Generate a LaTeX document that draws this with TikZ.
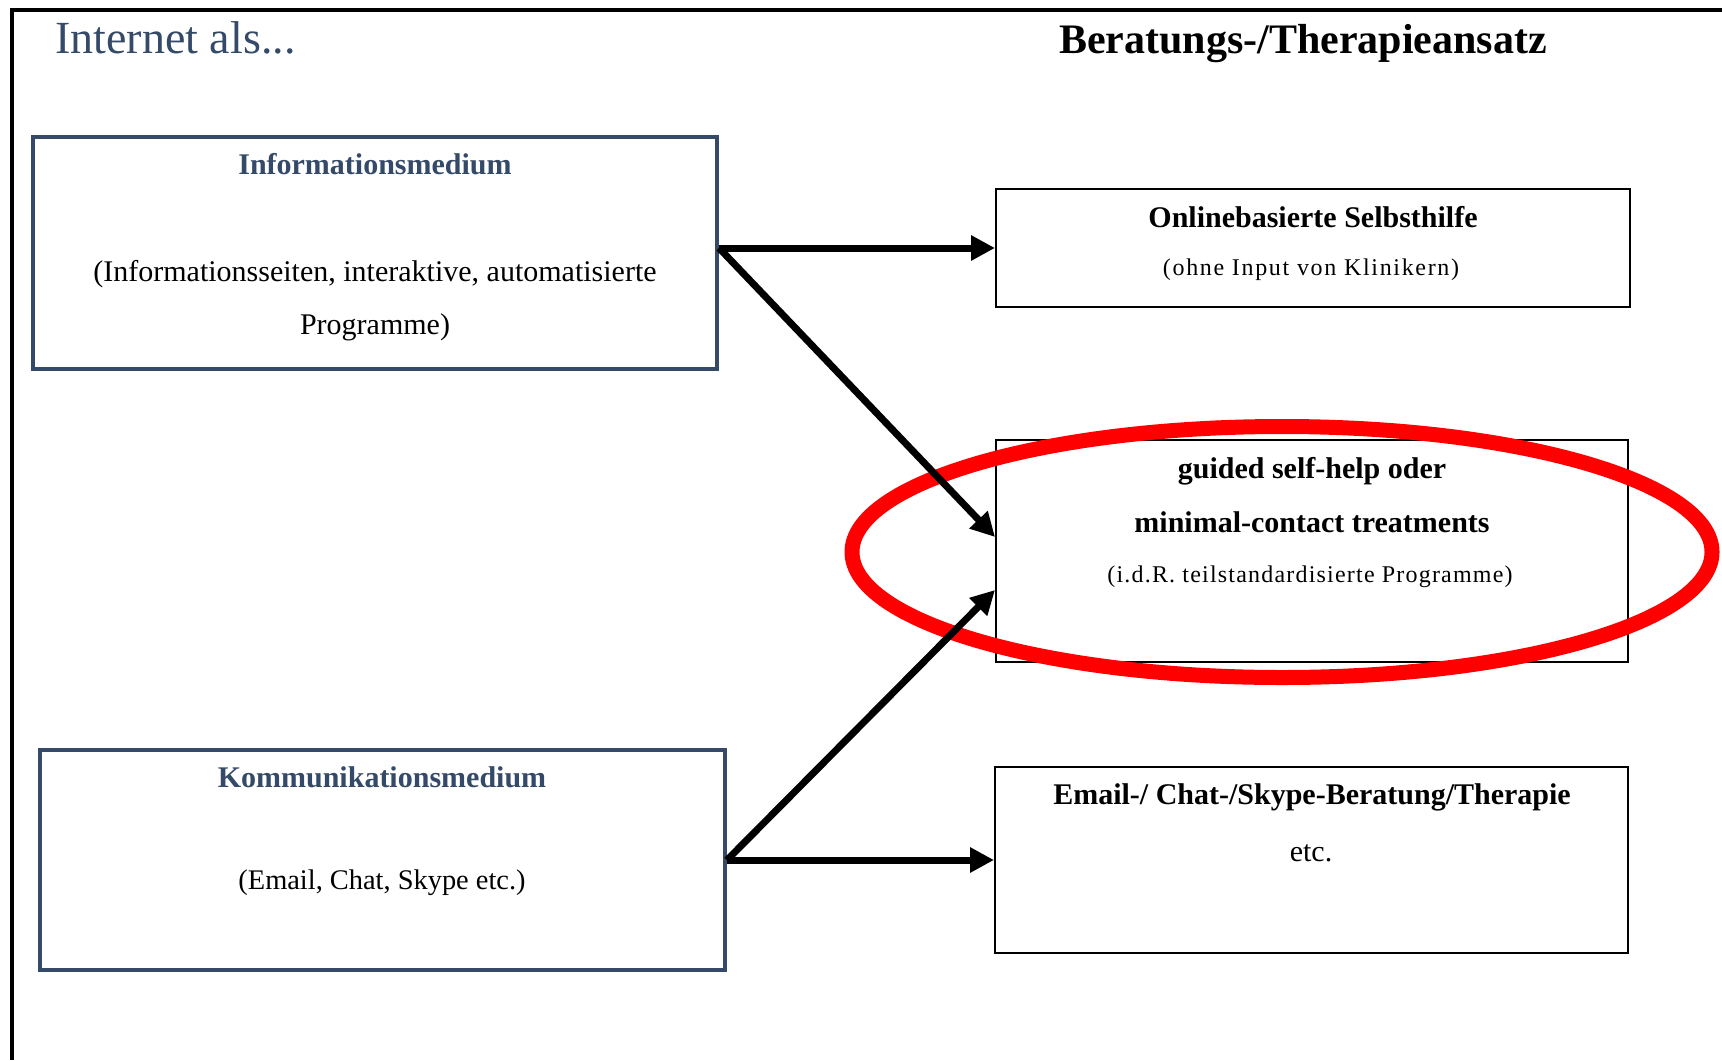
\documentclass[tikz,border=0pt]{standalone}
\usepackage{fontspec}
\setmainfont{Liberation Serif}
\usetikzlibrary{arrows.meta,shapes.geometric}
\definecolor{navy}{RGB}{52,74,104}
\definecolor{ringred}{RGB}{255,0,0}
\newcommand{\spaced}[1]{\addfontfeatures{LetterSpace=#1}}

\begin{document}
\begin{tikzpicture}[x=0.5pt,y=-0.5pt,
  navybox/.style={draw=navy,line width=2pt,fill=white,inner sep=0pt},
  plainbox/.style={draw=black,line width=1pt,fill=white,inner sep=0pt},
  txt/.style={anchor=base,inner sep=0pt,font=\fontsize{15}{18}\selectfont},
  head/.style={txt,font=\fontsize{15}{18}\selectfont\bfseries},
  navyhead/.style={head,text=navy},
  small/.style={txt,font=\fontsize{12}{14}\selectfont\spaced{#1}},
  link/.style={line width=3.5pt,-{Triangle[length=12pt,width=12pt]}},
  frame/.style={line width=2pt}]
\useasboundingbox (0,0) rectangle (1722,1060);

% outer frame: top and left edges only
\coordinate (fr-tr) at (1722,10);
\coordinate (fr-tl) at (12,10);
\coordinate (fr-bl) at (12,1060);
\draw[frame] (fr-tr) -- (fr-tl) -- (fr-bl);

% column headings
\node[anchor=base west,inner sep=0pt,text=navy,font=\fontsize{23}{27}\selectfont] (h-left) at (55,53) {Internet als...};
\node[anchor=base,inner sep=0pt,font=\fontsize{21}{25}\selectfont\bfseries] (h-right) at (1303,53) {Beratungs-/Therapieansatz};

% boxes
\node[navybox,minimum width=342pt,minimum height=116pt] (info) at (375,253) {};
\node[navybox,minimum width=342.5pt,minimum height=110pt] (komm) at (382.5,860) {};
\node[plainbox,minimum width=317pt,minimum height=59pt] (online) at (1313,248) {};
\node[plainbox,minimum width=316pt,minimum height=111pt] (guided) at (1312,551) {};
\node[plainbox,minimum width=316.5pt,minimum height=93pt] (email) at (1311.5,860) {};

% box texts
\node[navyhead] (info-t) at (375,174) {Informationsmedium};
\node[txt] (info-a) at (375,281) {(Informationsseiten, interaktive, automatisierte};
\node[txt] (info-b) at (375,334) {Programme)};

\node[navyhead] (komm-t) at (382,787) {Kommunikationsmedium};
\node[txt,font=\fontsize{14.2}{17}\selectfont] (komm-a) at (382,889) {(Email, Chat, Skype etc.)};

\node[head] (online-t) at (1313,227) {Onlinebasierte Selbsthilfe};
\node[small=7] (online-a) at (1311,275) {(ohne Input von Klinikern)};

\node[head] (guided-t) at (1312,478) {guided self-help oder};
\node[head] (guided-u) at (1312,532) {minimal-contact treatments};
\node[small=5] (guided-a) at (1310,582) {(i.d.R. teilstandardisierte Programme)};

\node[head] (email-t) at (1312,804) {Email-/ Chat-/Skype-Beratung/Therapie};
\node[txt] (email-a) at (1311,861) {etc.};

% highlight ring
\node[draw=ringred,line width=7.5pt,ellipse,minimum width=430pt,minimum height=125.5pt,inner sep=0pt] (ring) at (1282,552) {};

% connectors
\coordinate (info-out) at (info.east |- online.west);
\coordinate (g-in1) at ([yshift=7pt]guided.west);
\coordinate (g-in2) at ([yshift=-19.5pt]guided.west);
\draw[link] (info-out) -- (online.west);
\draw[link] (info-out) -- (g-in1);
\draw[link] (komm.east) -- (g-in2);
\draw[link] (komm.east) -- (email.west);
\end{tikzpicture}
\end{document}
